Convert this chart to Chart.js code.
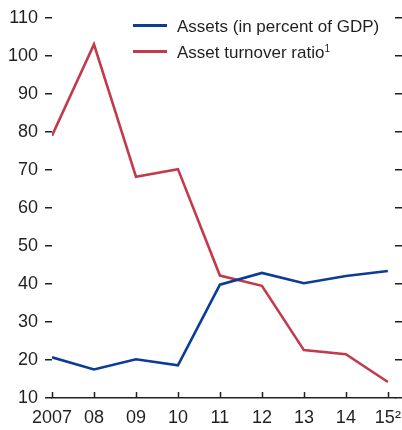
<!DOCTYPE html>
<html>
<head>
<meta charset="utf-8">
<script src="https://cdn.jsdelivr.net/npm/chart.js@4"></script>
<style>
  body { margin: 0; background: #fff; }
  #wrap { position: relative; width: 402px; height: 430px; }
  .legend { position: absolute; left: 133px; top: 15px; font-family: "Liberation Sans Narrow", "Arial Narrow", sans-serif; font-size: 17px; color: #231f20; }
  .legend div { height: 26px; line-height: 24px; white-space: nowrap; }
  .legend span.sw { display: inline-block; width: 34px; height: 2.5px; vertical-align: middle; margin-right: 10px; position: relative; top: -2px; }
  .legend sup { font-size: 10px; vertical-align: 6px; line-height: 0; }
</style>
</head>
<body>
<div id="wrap">
  <canvas id="chart"></canvas>
  <div class="legend">
    <div><span class="sw" style="background:#0b3c96"></span>Assets (in percent of GDP)</div>
    <div><span class="sw" style="background:#c43a4d"></span>Asset turnover ratio<sup>1</sup></div>
  </div>
</div>
<script>
// years and their tick labels
const years = [2007, 2008, 2009, 2010, 2011, 2012, 2013, 2014, 2015];
const yearLabels = ["2007", "08", "09", "10", "11", "12", "13", "14", "15\u00B2"];

// series
const assets = [20.7, 17.5, 20.2, 18.6, 39.8, 42.9, 40.2, 42.1, 43.4];
const turnover = [79, 103, 68.2, 70.2, 42.2, 39.5, 22.6, 21.5, 14.2];

const yTicks = [10, 20, 30, 40, 50, 60, 70, 80, 90, 100, 110];

const fontFamily = '"Liberation Sans Narrow", "Arial Narrow", sans-serif';
const ink = '#231f20';

// small tick marks drawn upward from the x axis
const innerXTicks = {
     id: 'innerXTicks',
     afterDraw(chart) {
          const ctx = chart.ctx;
          const x = chart.scales.x;
          const bottom = chart.chartArea.bottom;
          ctx.save();
          ctx.strokeStyle = ink;
          ctx.lineWidth = 1.5;
          years.forEach(yr => {
               const px = Math.round(x.getPixelForValue(yr)) + 0.5;
               ctx.beginPath();
               ctx.moveTo(px, bottom);
               ctx.lineTo(px, bottom - 6);
               ctx.stroke();
          });
          ctx.restore();
     }
};

const pts = arr => arr.map((v, i) => ({ x: years[i], y: v }));

const yAxisCommon = {
     min: 10,
     max: 110,
     afterBuildTicks: axis => { axis.ticks = yTicks.map(v => ({ value: v })); },
     border: { display: false },
     grid: { drawOnChartArea: false, drawTicks: true, tickLength: 7, color: ink, lineWidth: 1.5 }
};

new Chart(document.getElementById('chart'), {
     type: 'line',
     data: {
          datasets: [
               {
                    label: 'Assets (in percent of GDP)',
                    data: pts(assets),
                    borderColor: '#0b3c96',
                    borderWidth: 2.6,
                    pointRadius: 0,
                    tension: 0
               },
               {
                    label: 'Asset turnover ratio',
                    data: pts(turnover),
                    borderColor: '#c43a4d',
                    borderWidth: 2.6,
                    pointRadius: 0,
                    tension: 0
               }
          ]
     },
     options: {
          responsive: true,
          maintainAspectRatio: false,
          animation: false,
          layout: { padding: { left: 0, right: 0, top: 1, bottom: 0 } },
          plugins: { legend: { display: false }, tooltip: { enabled: false } },
          scales: {
               x: {
                    type: 'linear',
                    min: 2007,
                    max: 2015.17,
                    afterBuildTicks: axis => { axis.ticks = years.map(v => ({ value: v })); },
                    afterFit: axis => { axis.paddingRight = 0; axis.height = 32; },
                    ticks: {
                         callback: (v) => yearLabels[years.indexOf(v)],
                         font: { family: fontFamily, size: 18 },
                         color: ink,
                         padding: 9,
                         maxRotation: 0,
                         autoSkip: false
                    },
                    border: { display: true, color: ink, width: 1.5 },
                    grid: { display: false, drawTicks: false }
               },
               y: Object.assign({}, yAxisCommon, {
                    position: 'left',
                    afterFit: axis => { axis.width = 52; },
                    ticks: { font: { family: fontFamily, size: 18 }, color: ink, padding: 7 }
               }),
               y2: Object.assign({}, yAxisCommon, {
                    position: 'right',
                    ticks: { display: false }
               })
          }
     },
     plugins: [innerXTicks]
});
</script>
</body>
</html>
